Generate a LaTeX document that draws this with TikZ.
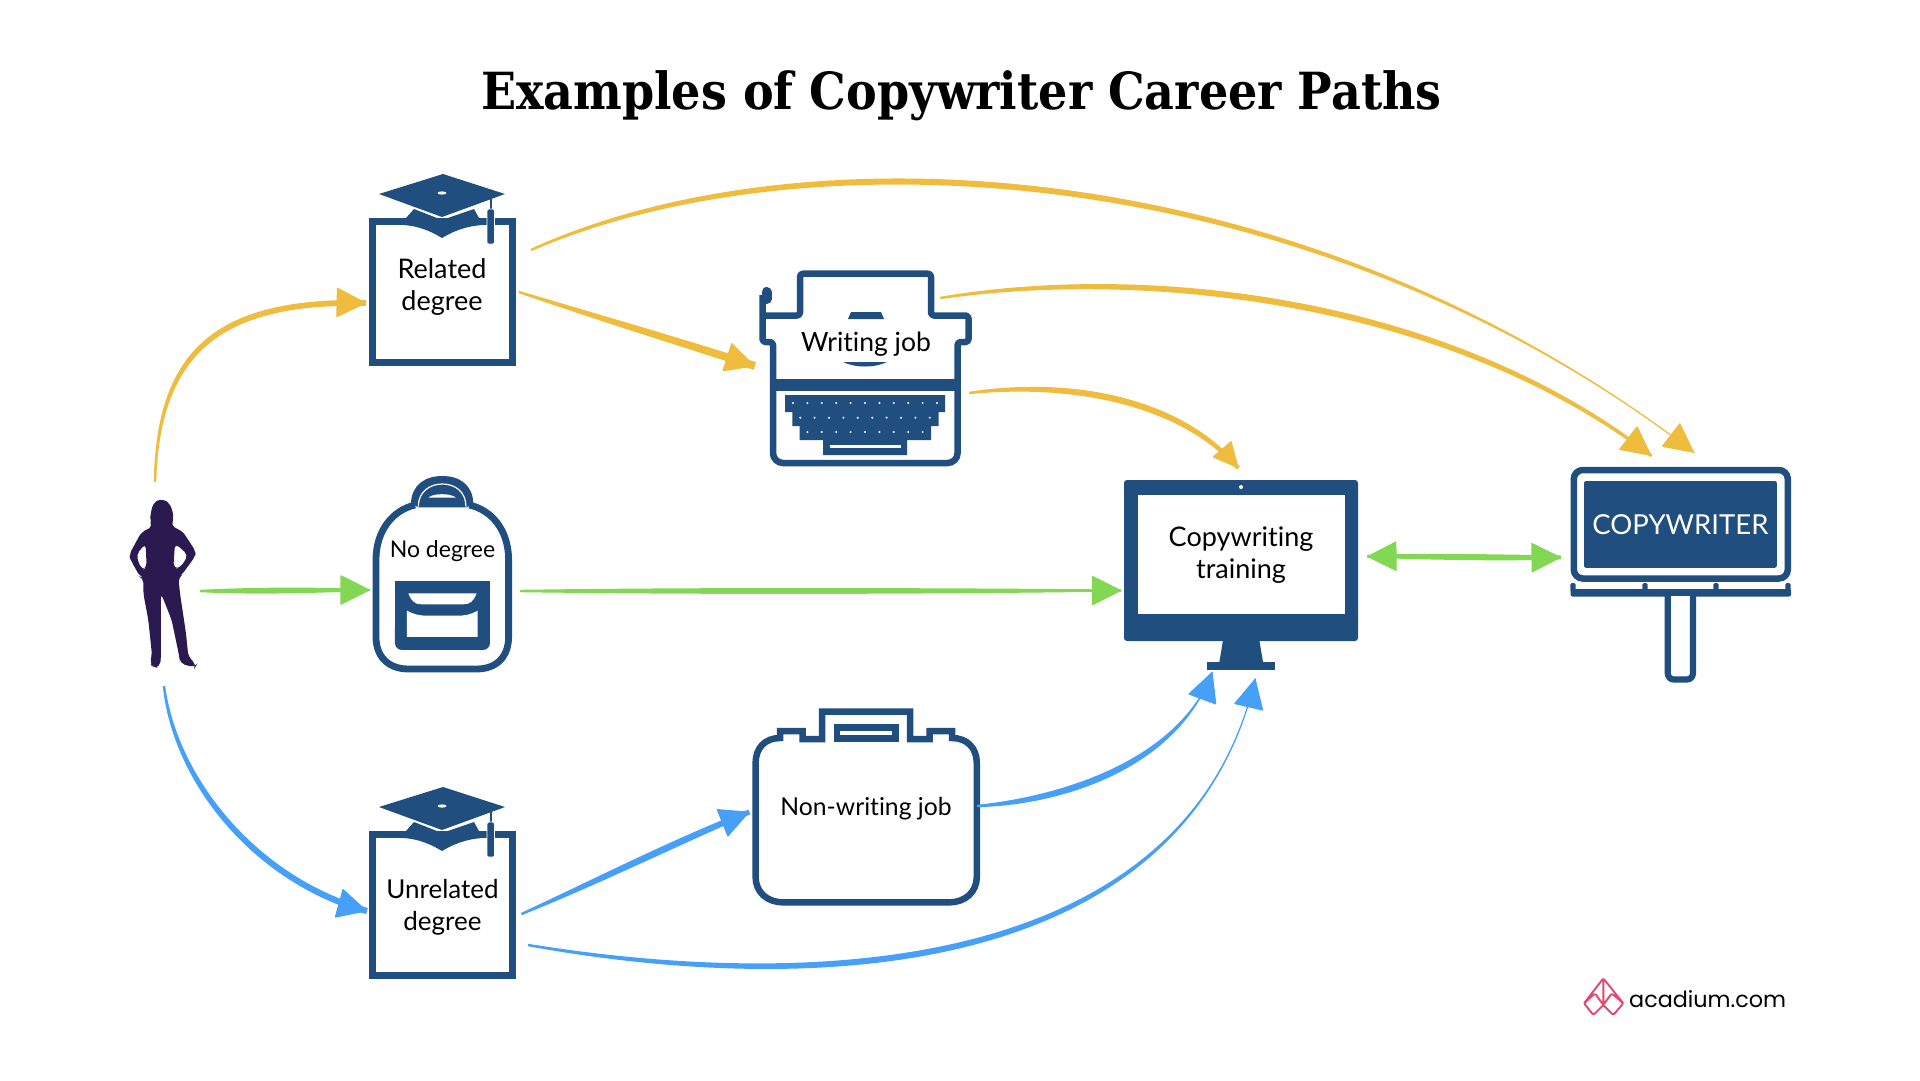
\documentclass[tikz,border=0pt]{standalone}
\usepackage{fontspec}
\usetikzlibrary{arrows.meta,calc,decorations.markings}
\setmainfont{Lato}[Ligatures=NoCommon]
\newfontfamily\titlefont{DejaVu Serif Condensed}
\newfontfamily\logofont{Poppins}
\definecolor{navy}{HTML}{1F4E7F}
\definecolor{sun}{HTML}{F0BC3E}
\definecolor{leaf}{HTML}{82D852}
\definecolor{sky}{HTML}{47A0F8}
\definecolor{plum}{HTML}{2A1A50}
\definecolor{rose}{HTML}{E0486F}
\tikzset{
  lbl/.style={font=\fontsize{#1}{32}\selectfont,align=center,text=black,inner sep=0pt},
  boxnode/.style={draw=navy,line width=7pt,fill=white,minimum width=140pt,minimum height=141pt,inner sep=0pt},
  bigtip/.style={postaction={decorate,decoration={markings,mark=at position 0.9995 with {\arrow{Triangle[length=30pt,width=30pt,round]}}}}},
  smalltip/.style={postaction={decorate,decoration={markings,mark=at position 0.9995 with {\arrow{Triangle[length=26pt,width=25pt,round]}}}}},
  bothtip/.style={postaction={decorate,decoration={markings,mark=at position 0.0005 with {\arrowreversed{Triangle[length=30pt,width=30pt,round]}},mark=at position 0.9995 with {\arrow{Triangle[length=30pt,width=30pt,round]}}}}},
}
% colour, tip style, start, control 1, control 2, end, control half-widths, end half-width
\newcommand\brush[9]{%
  \fill[#1] ($#3!1.2pt!90:#4$) .. controls ($#4!#7!90:#5$) and ($#5!#8!-90:#4$) .. ($#6!#9!-90:#5$)
     -- ($#6!#9!90:#5$) .. controls ($#5!#8!90:#4$) and ($#4!#7!-90:#5$) .. ($#3!1.2pt!-90:#4$) -- cycle;
  \draw[#1,line width=1.2pt,#2] #3 .. controls #4 and #5 .. #6;
}
\newcommand\gradcap[1]{%
  \begin{scope}[yshift=-#1pt]
    \fill[navy] (443,174) -- (505,194) -- (442,217) -- (379,194) -- cycle;
    \fill[white] (442,193) ellipse (4.5pt and 1.6pt);
    \fill[navy] (414,209) -- (442,220) -- (474,209) -- (479,218) -- (483,225)
       .. controls (465,226) and (452,232) .. (442,238)
       .. controls (432,232) and (420,226) .. (403,225) -- (406,218) -- cycle;
    \draw[navy,line width=1.6pt] (491,199) -- (491,215);
    \fill[navy,rounded corners=1.5pt,draw=white,line width=.7pt] (487,209) -- (494.5,209) -- (494.5,244) -- (487,244) -- cycle;
  \end{scope}}
\begin{document}
\begin{tikzpicture}[x=1pt,y=-1pt]
\useasboundingbox (0,0) rectangle (1920,1080);
\fill[white] (0,0) rectangle (1920,1080);
\node[inner sep=0pt,font=\titlefont\bfseries\fontsize{51.2}{60}\selectfont] (title) at (961.5,96) {Examples of Copywriter Career Paths};

% person
\begin{scope}[shift={(100,460)},x=0.3333pt,y=-0.3333pt]
 \fill[plum,even odd rule,rounded corners=5pt]
  (185,115) -- (160,128) -- (152,160) -- (150,182) -- (158,198) -- (147,207) -- (125,215) -- (87,285) -- (92,300) -- (120,350) -- (130,353)
  -- (130,400) -- (145,480) -- (156,585) -- (150,610) -- (160,625) -- (180,620) -- (183,590) -- (183,400)
  -- (215,480) -- (238,590) -- (240,610) -- (285,623) -- (290,615) -- (265,590) -- (258,520) -- (240,400) -- (235,352) -- (245,345)
  -- (285,290) -- (288,275) -- (245,210) -- (220,205) -- (215,190) -- (222,170) -- (210,130) -- cycle
  (137,250) -- (108,285) -- (125,330) -- (140,325) -- cycle
  (225,250) -- (265,285) -- (240,325) -- (220,325) -- cycle;
\end{scope}
\coordinate (person) at (163,585);

% related degree
\node[boxnode] (relbox) at (442.5,292) {};
\gradcap{0}
\node[lbl=27] (reltext) at (442,287.5) {Related\\degree};

% unrelated degree
\node[boxnode] (unrelbox) at (442.5,905) {};
\gradcap{613}
\node[lbl=26] (unreltext) at (442.5,907) {Unrelated\\degree};

% typewriter
\node[inner sep=0pt,minimum width=200pt,minimum height=190pt] (typer) at (866,368) {};
\fill[navy] (851,312) -- (881,312) -- (884,319) -- (848,319) -- cycle;
\fill[navy] (843,362) .. controls (855,368) and (875,368) .. (887,362) -- cycle;
\draw[navy,line width=6.5pt,rounded corners=3pt,line join=round]
  (773,385) -- (773,342) -- (762.5,342) -- (762.5,295);
\draw[navy,line width=6.5pt,rounded corners=3pt,line join=round]
  (762.5,315.5) -- (800,315.5) -- (800,273.7) -- (931,273.7) -- (931,315.5) -- (968.5,315.5) -- (968.5,342) -- (957.6,342) -- (957.6,385);
\draw[navy,line width=10pt,line cap=round] (766.5,292) -- (766.5,299);
\draw[navy,line width=6.5pt,rounded corners=10pt] (773,385) -- (773,463) -- (957.6,463) -- (957.6,385);
\fill[navy] (770,379) rectangle (961,391);
\fill[navy] (785,395) -- (945,395) -- (945,412) -- (938.5,412) -- (938.5,426) -- (931,426) -- (931,440) -- (907,440) -- (907,455) -- (823,455) -- (823,440) -- (799.6,440) -- (799.6,426) -- (792.4,426) -- (792.4,412) -- (785,412) -- cycle;
\fill[white] (830,445) rectangle (900.6,447.6);
\foreach \i in {0,...,10} \fill[white] (793+\i*14.4,403) circle (1.1pt);
\foreach \i in {0,...,9} \fill[white] (800.2+\i*14.4,417.7) circle (1.1pt);
\foreach \i in {0,...,8} \fill[white] (807.4+\i*14.4,432) circle (1.1pt);
\node[lbl=26.5] (typetext) at (866,344) {Writing job};

% backpack
\begin{scope}[shift={(100,460)},x=0.3333pt,y=-0.3333pt]
 \fill[navy] (933,130) .. controls (935,75) and (975,48) .. (1027,48) .. controls (1080,48) and (1118,75) .. (1120,130) -- (1100,142) -- (955,142) -- cycle;
 \draw[white,line width=1.2pt] (955,140) .. controls (955,95) and (990,72) .. (1027,72) .. controls (1065,72) and (1098,95) .. (1098,140);
 \fill[white] (985,113) .. controls (1000,99) and (1052,99) .. (1068,113) -- cycle;
 \draw[navy,line width=6.8pt] (828,300) .. controls (828,210) and (880,150) .. (945,135) (1108,135) .. controls (1175,150) and (1226,210) .. (1226,300)
   -- (1226,530) .. controls (1226,590) and (1190,627) .. (1130,627) -- (925,627) .. controls (865,627) and (828,590) .. (828,530) -- (828,300);
 \fill[navy,rounded corners=7pt] (885,500) -- (885,570) -- (1170,570) -- (1170,500);
 \fill[navy] (885,363) rectangle (1170,520);
 \fill[white] (925,400) -- (1130,400) .. controls (1120,425) and (1110,433) .. (1090,433) -- (965,433) .. controls (945,433) and (935,425) .. (925,400) -- cycle;
 \fill[white] (921,452) .. controls (945,465) and (960,467) .. (985,467) -- (1070,467) .. controls (1095,467) and (1110,465) .. (1133,452) -- (1133,531) -- (921,531) -- cycle;
\end{scope}
\node[inner sep=0pt,minimum width=139pt,minimum height=190pt] (pack) at (442.5,577) {};
\node[lbl=23] (packtext) at (442.5,551) {No degree};

% briefcase
\draw[navy,line width=6.5pt,fill=white,line join=miter]
  (755.6,763) .. controls (755.6,748) and (765,738) .. (780,738) -- (780,731) -- (802.7,731) -- (802.7,739) -- (822,739) -- (822,711.7) -- (910,711.7) -- (910,739) -- (929.7,739) -- (929.7,731) -- (952,731) -- (952,738) .. controls (967,738) and (976.8,748) .. (976.8,763) -- (976.8,877) .. controls (976.8,892) and (965,902.3) .. (949.6,902.3) -- (783,902.3) .. controls (767,902.3) and (755.6,892) .. (755.6,877) -- cycle;
\fill[navy] (833.7,723.7) rectangle (898.7,742);
\fill[white] (839.8,730.7) rectangle (892,735);
\node[inner sep=0pt,minimum width=228pt,minimum height=198pt] (case) at (866,807) {};
\node[lbl=24.7] (casetext) at (866,809) {Non-writing job};

% monitor
\fill[navy,rounded corners=3pt] (1124,480) rectangle (1358,641);
\fill[navy] (1223,640) -- (1259.3,640) -- (1263,662) -- (1219.4,662) -- cycle;
\fill[navy] (1207,661.7) rectangle (1275,669.7);
\node[fill=white,inner sep=0pt,minimum width=207.4pt,minimum height=118.4pt] (screen) at (1241.3,554.5) {};
\fill[white] (1241,487) circle (2pt);
\node[lbl=27] (screentext) at (1241,555.5) {Copywriting\\training};

% sign
\draw[navy,line width=6.5pt,rounded corners=9pt,fill=white] (1573.8,470) rectangle (1787.8,578.5);
\node[fill=navy,text=white,inner sep=0pt,rounded corners=2pt,minimum width=192.8pt,minimum height=86.7pt,font=\fontsize{27.5}{32}\selectfont] (sign) at (1680.4,524.4) {\raisebox{-1.2pt}{COPYWRITER}};
\fill[navy,rounded corners=2pt] (1570.6,589) rectangle (1791,596.5);
\foreach \x in {1573,1645,1716,1788} \fill[navy,rounded corners=1.5pt] (\x-2.7,583) rectangle (\x+2.7,592);
\draw[navy,line width=6.2pt,rounded corners=6pt,fill=white] (1667.8,596) -- (1667.8,679.5) -- (1692.9,679.5) -- (1692.9,596);

% connectors
\brush{sun}{bigtip}{($(person)+(-8,-103)$)}{(158,350)}{(220,300)}{($(relbox.west)+(-3,11)$)}{3pt}{3.2pt}{3pt}
\brush{sun}{bigtip}{($(relbox.east)+(3,0)$)}{(600,318)}{(680,342)}{($(typer.west)+(-11,-2)$)}{3pt}{4pt}{4pt}
\brush{sun}{bigtip}{($(relbox.east)+(15,-42)$)}{(800,130)}{(1300,150)}{($(sign.north)+(14,-28)$)}{4.5pt}{3pt}{0pt}
\brush{sun}{bigtip}{($(typer.east)+(-26,-70)$)}{(1150,265)}{(1450,300)}{($(sign.north)+(-29,-25)$)}{4pt}{3.5pt}{1.5pt}
\brush{sun}{smalltip}{($(typer.east)+(3,25)$)}{(1070,380)}{(1180,400)}{($(screen.north)+(-3,-27)$)}{4pt}{3.5pt}{2pt}
\brush{leaf}{bigtip}{($(person)+(37,6)$)}{(260,591)}{(310,590)}{($(pack.west)+(-3,13)$)}{4pt}{3pt}{1pt}
\brush{leaf}{bigtip}{($(pack.east)+(8,14)$)}{(720,591)}{(950,591)}{($(screen.west)+(-16,36)$)}{4pt}{3pt}{1pt}
\brush{leaf}{bothtip}{($(screen.east)+(22,2)$)}{(1420,556)}{(1500,558)}{($(sign.west)+(-23,33)$)}{3.5pt}{3.5pt}{2pt}
\brush{sky}{bigtip}{($(person)+(1,101)$)}{(175,780)}{(255,880)}{($(unrelbox.west)+(-2,6)$)}{3pt}{3.5pt}{3.2pt}
\brush{sky}{bigtip}{($(unrelbox.east)+(5.5,9)$)}{(600,880)}{(680,840)}{($(case.west)+(-2.5,5)$)}{3.5pt}{4pt}{2.5pt}
\brush{sky}{bigtip}{($(case.east)+(-3,-1)$)}{(1070,800)}{(1180,760)}{($(screen.south)+(-29,58)$)}{5pt}{3pt}{0pt}
\brush{sky}{bigtip}{($(unrelbox.east)+(12,40)$)}{(850,1000)}{(1190,960)}{($(screen.south)+(14,64.5)$)}{4.5pt}{3pt}{0pt}

% logo
\begin{scope}[shift={(1560,960)},x=0.3333pt,y=-0.3333pt]
 \draw[rose,line width=1.9pt,line join=round,rounded corners=1.5pt]
  (130,55) -- (190,130) -- (160,165) -- (130,135) -- (100,165) -- (72,130) -- cycle
  (72,130) -- (105,100) -- (130,135) -- (155,100) -- (190,130)
  (130,55) -- (130,135);
\end{scope}
\node[anchor=west,inner sep=0pt,font=\logofont\fontsize{22.3}{28}\selectfont,text=black] (site) at (1629,999) {acadium.com};
\end{tikzpicture}
\end{document}
